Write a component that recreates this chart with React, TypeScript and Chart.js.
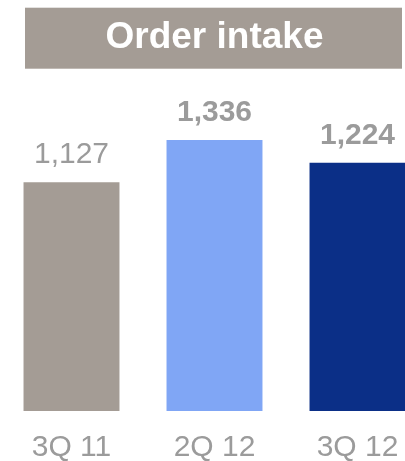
import React, { useEffect, useRef } from "react";
import { Chart, registerables } from "chart.js";

Chart.register(...registerables);

const categories = ["3Q 11", "2Q 12", "3Q 12"];
const orderIntake = [1127, 1336, 1224];
const valueLabels = ["1,127", "1,336", "1,224"];
const labelBold = [false, true, true];
const barColors = ["#a49c95", "#80a6f5", "#0b2f87"];
const titleText = "Order intake";

const FONT = "'Liberation Sans', Arial, sans-serif";
const GRAY = "#9b9b9b";

const titleBoxPlugin = {
  id: "titleBox",
  beforeDraw(chart: any) {
    const tb = chart.titleBlock;
    if (!tb) return;
    const ctx = chart.ctx;
    const o = chart.options.plugins.titleBox;
    const cy = tb.top + o.padTop + o.lineH / 2;
    ctx.save();
    ctx.fillStyle = o.color;
    ctx.fillRect(o.left, cy - o.half, o.width, o.half * 2);
    ctx.restore();
  },
};

const valueLabelPlugin = {
  id: "valueLabels",
  afterDatasetsDraw(chart: any) {
    const ctx = chart.ctx;
    const meta = chart.getDatasetMeta(0);
    ctx.save();
    ctx.fillStyle = GRAY;
    ctx.textAlign = "center";
    ctx.textBaseline = "alphabetic";
    meta.data.forEach((bar: any, i: number) => {
      ctx.font = `${labelBold[i] ? "bold " : ""}30px ${FONT}`;
      ctx.fillText(valueLabels[i], bar.x, bar.y - 19);
    });
    ctx.restore();
  },
};

export default function App() {
  const ref = useRef<HTMLCanvasElement | null>(null);
  useEffect(() => {
    if (!ref.current) return;
    const chart = new Chart(ref.current, {
      type: "bar",
      data: {
        labels: categories,
        datasets: [
          {
            data: orderIntake,
            backgroundColor: barColors,
            borderWidth: 0,
            categoryPercentage: 1,
            barPercentage: 0.671,
          },
        ],
      },
      options: {
        animation: false,
        responsive: false,
        devicePixelRatio: 1,
        layout: { padding: 0 },
        plugins: {
          legend: { display: false },
          tooltip: { enabled: false },
          title: {
            display: true,
            text: titleText,
            color: "#ffffff",
            font: { family: FONT, size: 37, weight: "bold", lineHeight: 1.2 },
            padding: { top: 16, bottom: 26 },
          },
          titleBox: { color: "#a49c95", left: 25, width: 377, half: 30.5, padTop: 16, lineH: 37 * 1.2 },
        } as any,
        scales: {
          x: {
            grid: { display: false, drawTicks: false },
            border: { display: false },
            ticks: {
              color: GRAY,
              font: { family: FONT, size: 30, lineHeight: 1 },
              padding: 22,
            },
          },
          y: {
            display: false,
            min: 0,
            max: 1600,
          },
        },
      },
      plugins: [titleBoxPlugin, valueLabelPlugin],
    });
    return () => chart.destroy();
  }, []);

  return (
    <div style={{ position: "absolute", left: 0, top: 0, width: 405, height: 461, overflow: "hidden", background: "#ffffff" }}>
      <canvas ref={ref} width={429} height={485} style={{ display: "block", width: 429, height: 485 }} />
    </div>
  );
}
